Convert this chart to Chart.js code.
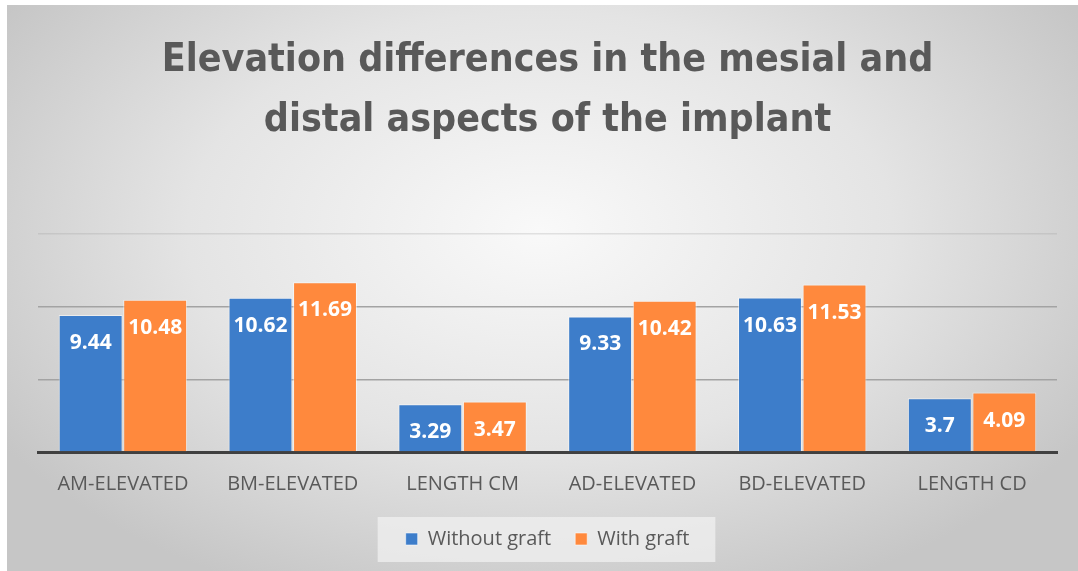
<!DOCTYPE html>
<html>
<head>
<meta charset="utf-8">
<script src="https://cdn.jsdelivr.net/npm/chart.js@4"></script>
<style>
  html, body { margin: 0; padding: 0; background: #fff; }
  #wrap { width: 1078px; height: 571px; }
</style>
</head>
<body>
<div id="wrap"><canvas id="myChart" width="1078" height="571"></canvas></div>
<script>
// data
const categories = ['AM-ELEVATED', 'BM-ELEVATED', 'LENGTH CM', 'AD-ELEVATED', 'BD-ELEVATED', 'LENGTH CD'];
const withoutGraft = [9.44, 10.62, 3.29, 9.33, 10.63, 3.7];
const withGraft = [10.48, 11.69, 3.47, 10.42, 11.53, 4.09];
const yTicks = [0, 5, 10, 15];

const grey = '#595959';

// gradient background, like the office chart area
const bgPlugin = {
  id: 'bg',
  beforeDraw(chart) {
    const c = chart.ctx;
    const w = chart.width, h = chart.height;
    c.save();
    c.fillStyle = '#ffffff';
    c.fillRect(0, 0, w, h);
    c.translate(540, 230);
    c.scale(1, 0.62);
    const g = c.createRadialGradient(0, 0, 0, 0, 0, 640);
    g.addColorStop(0, '#f9f9f9');
    g.addColorStop(0.55, '#e4e4e4');
    g.addColorStop(1, '#c6c6c6');
    c.fillStyle = g;
    c.fillRect(7 - 540, (5 - 230) / 0.62, w, h / 0.62);
    c.restore();

    // legend box
    const lg = chart.legend;
    if (lg && lg.legendHitBoxes && lg.legendHitBoxes.length) {
      const boxes = lg.legendHitBoxes;
      const x0 = boxes[0].left - 28;
      const last = boxes[boxes.length - 1];
      const x1 = last.left + last.width + 26;
      const yc = boxes[0].top + boxes[0].height / 2;
      c.save();
      c.fillStyle = 'rgba(240,240,240,0.75)';
      c.fillRect(x0, yc - 22, x1 - x0, 45);
      c.restore();
    }
  }
};

const labelPlugin = {
  id: 'barLabels',
  afterDatasetsDraw(chart) {
    const c = chart.ctx;
    c.save();
    c.fillStyle = '#ffffff';
    c.font = 'bold 21px "Open Sans"';
    c.textAlign = 'center';
    c.textBaseline = 'middle';
    chart.data.datasets.forEach((ds, i) => {
      chart.getDatasetMeta(i).data.forEach((bar, j) => {
        c.fillText(String(ds.data[j]), bar.x, bar.y + 28);
      });
    });
    c.restore();
  }
};

const ctx = document.getElementById('myChart').getContext('2d');

const chart = new Chart(ctx, {
  type: 'bar',
  data: {
    labels: categories,
    datasets: [{
      label: 'Without graft',
      data: withoutGraft,
      backgroundColor: '#3d7dca',
      borderColor: 'rgba(255,255,255,0.55)',
      borderWidth: 1
    }, {
      label: 'With graft',
      data: withGraft,
      backgroundColor: '#ff893d',
      borderColor: 'rgba(255,255,255,0.55)',
      borderWidth: 1
    }]
  },
  options: {
    responsive: false,
    animation: false,
    layout: { padding: { left: 38, right: 21, top: 0, bottom: 12 } },
    datasets: {
      bar: { categoryPercentage: 0.76, barPercentage: 0.99 }
    },
    plugins: {
      title: {
        display: true,
        text: ['Elevation differences in the mesial and', 'distal aspects of the implant'],
        color: grey,
        font: { family: '"Liberation Sans Narrow", "DejaVu Sans Condensed", "Open Sans"', size: 39, weight: 'bold', lineHeight: 1.54 },
        padding: { top: 31, bottom: 83 }
      },
      legend: {
        position: 'bottom',
        labels: {
          color: grey,
          font: { family: '"Open Sans"', size: 20 },
          boxWidth: 12,
          boxHeight: 12,
          padding: 24
        }
      },
      tooltip: { enabled: false }
    },
    scales: {
      x: {
        afterFit(scale) { scale.height -= 11; },
        grid: { display: false, drawTicks: false },
        border: { display: true, color: '#404040', width: 3 },
        ticks: { color: grey, font: { family: '"Open Sans"', size: 20 }, padding: 20 }
      },
      y: {
        min: 0,
        max: 15,
        afterBuildTicks(axis) { axis.ticks = yTicks.map(v => ({ value: v })); },
        ticks: { display: false },
        border: { display: false },
        grid: {
          drawTicks: false,
          lineWidth: 1.5,
          color: c => c.tick && c.tick.value === 15 ? 'rgba(150,150,150,0.25)' : (c.tick && c.tick.value === 0 ? 'rgba(0,0,0,0)' : '#a3a3a3')
        }
      }
    }
  },
  plugins: [bgPlugin, labelPlugin]
});
</script>
</body>
</html>
